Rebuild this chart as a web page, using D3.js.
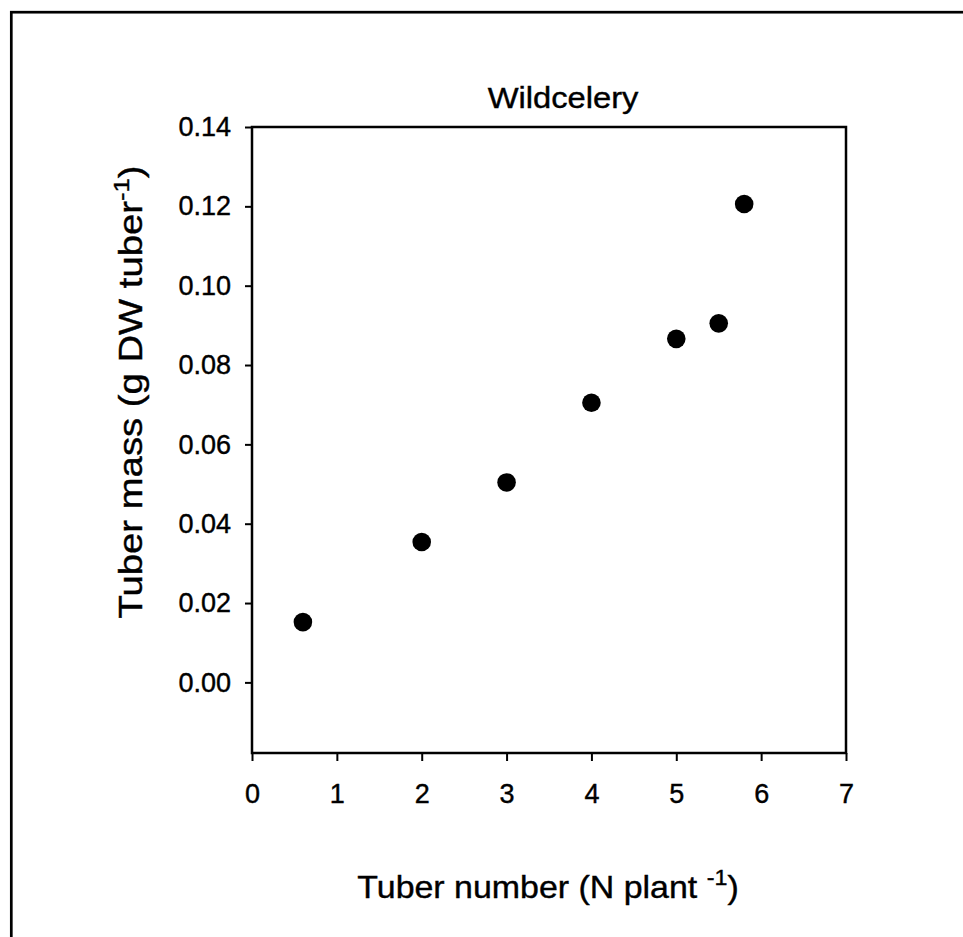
<!DOCTYPE html>
<html>
<head>
<meta charset="utf-8">
<script src="https://cdn.jsdelivr.net/npm/d3@7"></script>
<style>
  html, body { margin: 0; padding: 0; background: #fff; }
  svg { display: block; }
  text { font-family: "Liberation Sans", Arial, Helvetica, sans-serif; fill: #000; stroke: #000; stroke-width: 0.4; }
</style>
</head>
<body>
<svg id="chart" width="963" height="937"></svg>
<script>
// Data
const tuberNumber = [0.6, 2.0, 3.0, 4.0, 5.0, 5.5, 5.8];
const tuberMass   = [0.0152, 0.0354, 0.0504, 0.0705, 0.0866, 0.0905, 0.1206];
const xTicks = [0, 1, 2, 3, 4, 5, 6, 7];
const yTicks = [0.00, 0.02, 0.04, 0.06, 0.08, 0.10, 0.12, 0.14];
const titleText = "Wildcelery";

const svg = d3.select("#chart");
const W = 963, H = 937;
const m = { left: 252, top: 127, right: 846, bottom: 753 };

// outer border (right and bottom lie beyond the picture)
svg.append("rect")
  .attr("x", 11.3).attr("y", 12.2)
  .attr("width", W + 20).attr("height", H + 20)
  .attr("fill", "none").attr("stroke", "#000").attr("stroke-width", 2.7);

const x = d3.scaleLinear().domain([0, 7]).range([m.left, m.right]);
const y = d3.scaleLinear().domain([-0.0178, 0.14]).range([m.bottom, m.top]);

// frame
svg.append("rect")
  .attr("x", m.left).attr("y", m.top)
  .attr("width", m.right - m.left).attr("height", m.bottom - m.top)
  .attr("fill", "none").attr("stroke", "#000").attr("stroke-width", 2.5);

// x axis
const gx = svg.append("g")
  .attr("transform", `translate(0,${m.bottom})`)
  .call(d3.axisBottom(x).tickValues(xTicks).tickFormat(d3.format("d")).tickSize(8).tickPadding(23));
gx.select(".domain").remove();
gx.selectAll(".tick line").attr("stroke", "#000").attr("stroke-width", 2);
gx.selectAll(".tick text").attr("font-size", 27).attr("font-family", "Liberation Sans, Arial, sans-serif");

// y axis
const gy = svg.append("g")
  .attr("transform", `translate(${m.left},0)`)
  .call(d3.axisLeft(y).tickValues(yTicks).tickFormat(d3.format(".2f")).tickSize(7).tickPadding(14));
gy.select(".domain").remove();
gy.selectAll(".tick line").attr("stroke", "#000").attr("stroke-width", 2);
gy.selectAll(".tick text").attr("font-size", 27).attr("font-family", "Liberation Sans, Arial, sans-serif");

// points
svg.append("g").selectAll("circle")
  .data(tuberNumber.map((v, i) => [v, tuberMass[i]]))
  .join("circle")
  .attr("cx", d => x(d[0]))
  .attr("cy", d => y(d[1]))
  .attr("r", 9.3)
  .attr("fill", "#000");

// title
svg.append("text")
  .attr("transform", "translate(563,108) scale(1.09,1)")
  .attr("text-anchor", "middle")
  .attr("font-size", 30)
  .text(titleText);

// x label
const xl = svg.append("text")
  .attr("transform", "translate(548,898) scale(1.06,1)")
  .attr("text-anchor", "middle")
  .attr("font-size", 32);
xl.append("tspan").text("Tuber number (N plant ");
xl.append("tspan").attr("font-size", 22).attr("dy", -13).text("-1");
xl.append("tspan").attr("dy", 13).text(")");

// y label
const yl = svg.append("text")
  .attr("transform", "translate(142,392) rotate(-90) scale(1.16,1)")
  .attr("text-anchor", "middle")
  .attr("font-size", 33);
yl.append("tspan").text("Tuber mass (g DW tuber");
yl.append("tspan").attr("font-size", 22).attr("dy", -13).text("-1");
yl.append("tspan").attr("dy", 13).text(")");
</script>
</body>
</html>
